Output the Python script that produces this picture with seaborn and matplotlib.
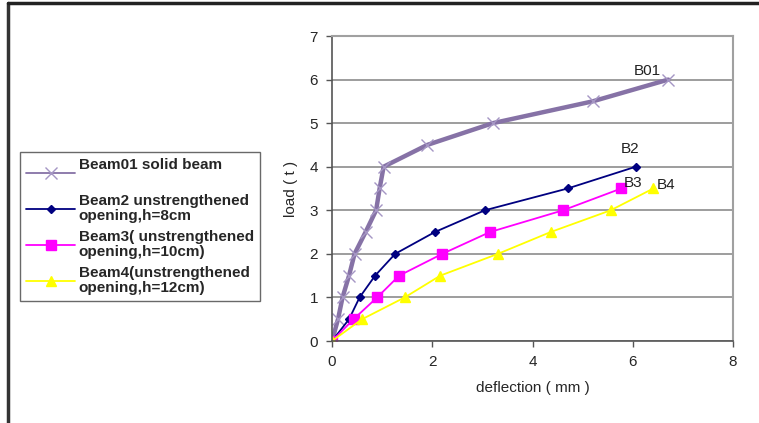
import pandas as pd
import numpy as np
import matplotlib
matplotlib.use('Agg')
import matplotlib.pyplot as plt
import seaborn as sns

# values
beam01_defl = [0, 0.12, 0.21, 0.34, 0.45, 0.67, 0.88, 0.95, 1.03, 1.9, 3.21, 5.2, 6.71]
beam01_load = [0, 0.5, 1.0, 1.5, 2.0, 2.5, 3.0, 3.5, 4.0, 4.5, 5.0, 5.5, 6.0]
beam2_defl = [0, 0.34, 0.55, 0.86, 1.26, 2.05, 3.05, 4.7, 6.06]
beam2_load = [0, 0.5, 1.0, 1.5, 2.0, 2.5, 3.0, 3.5, 4.0]
beam3_defl = [0, 0.43, 0.9, 1.34, 2.2, 3.15, 4.61, 5.77]
beam3_load = [0, 0.5, 1.0, 1.5, 2.0, 2.5, 3.0, 3.5]
beam4_defl = [0, 0.6, 1.45, 2.16, 3.31, 4.36, 5.56, 6.41]
beam4_load = [0, 0.5, 1.0, 1.5, 2.0, 2.5, 3.0, 3.5]

labels = ['Beam01 solid beam\n ',
          'Beam2 unstrengthened\nopening,h=8cm',
          'Beam3( unstrengthened\nopening,h=10cm)',
          'Beam4(unstrengthened\nopening,h=12cm)']
tags = ['B01', 'B2', 'B3', 'B4']
tag_pos = [(6.02, 6.2), (5.76, 4.4), (5.82, 3.62), (6.48, 3.58)]

sns.set_style('white')
plt.rcParams['font.family'] = ['Liberation Sans', 'DejaVu Sans']

fig = plt.figure(figsize=(7.59, 4.23), dpi=100)
ax = fig.add_axes([332 / 759, 1 - 341 / 423, 401 / 759, 305 / 423])

styles = [
    dict(color='#8672A6', lw=3.2, marker='x', ms=9, mec='#A596C4', mew=1.0),
    dict(color='#000080', lw=1.3, marker='D', ms=4.5, mec='#000080'),
    dict(color='#FF00FF', lw=1.3, marker='s', ms=7, mec='#FF00FF'),
    dict(color='#FFFF00', lw=1.3, marker='^', ms=7, mec='#FFFF00'),
]
series = [(beam01_defl, beam01_load), (beam2_defl, beam2_load),
          (beam3_defl, beam3_load), (beam4_defl, beam4_load)]

for (xs, ys), lab, st in zip(series, labels, styles):
    df = pd.DataFrame({'deflection': xs, 'load': ys})
    sns.lineplot(data=df, x='deflection', y='load', ax=ax, sort=False,
                 estimator=None, label=lab, color=st['color'], lw=st['lw'],
                 marker=st['marker'], markersize=st['ms'],
                 markeredgecolor=st['mec'], markeredgewidth=st.get('mew', 1))

for t, (x, y) in zip(tags, tag_pos):
    ax.text(x, y, t, fontsize=11, va='center', ha='left', color='#222222')

ax.set_xlim(0, 8)
ax.set_ylim(0, 7)
ax.set_xticks(range(0, 9, 2))
ax.set_yticks(range(0, 8))
ax.yaxis.grid(True, color='#8C8C8C', lw=1.2)
ax.xaxis.grid(False)
ax.set_axisbelow(True)
for s in ['top', 'right']:
    ax.spines[s].set_color('#A0A0A0')
    ax.spines[s].set_linewidth(1.5)
for s in ['left', 'bottom']:
    ax.spines[s].set_color('#555555')
    ax.spines[s].set_linewidth(1.2)
ax.tick_params(axis='both', direction='out', length=4, width=1, color='#555555',
               labelsize=11, pad=6, bottom=True, left=True)
ax.set_xlabel('deflection ( mm )', fontsize=11, labelpad=9)
ax.set_ylabel('load ( t )', fontsize=11, labelpad=8)

leg = ax.legend(loc='upper left', bbox_to_anchor=(20 / 759, 1 - 152 / 423),
                bbox_transform=fig.transFigure, frameon=True, fancybox=False,
                prop={'weight': 'bold', 'size': 11}, handlelength=3.2,
                handletextpad=0.25, labelspacing=0.45, borderpad=0.4,
                borderaxespad=0)
leg.get_frame().set_edgecolor('#444444')
leg.get_frame().set_linewidth(1.0)
for t in leg.get_texts():
    t.set_linespacing(1.1)
for h in leg.legend_handles:
    h.set_linewidth(1.3)

# outer frame lines of the screenshot
fig.add_artist(plt.Line2D([7.5 / 759, 7.5 / 759], [0, 1 - 3 / 423],
                          transform=fig.transFigure, color='#333333', lw=2.5))
fig.add_artist(plt.Line2D([7.5 / 759, 1], [1 - 3 / 423, 1 - 3 / 423],
                          transform=fig.transFigure, color='#222222', lw=2.5))

fig.savefig('out.png', dpi=100)
plt.close(fig)
